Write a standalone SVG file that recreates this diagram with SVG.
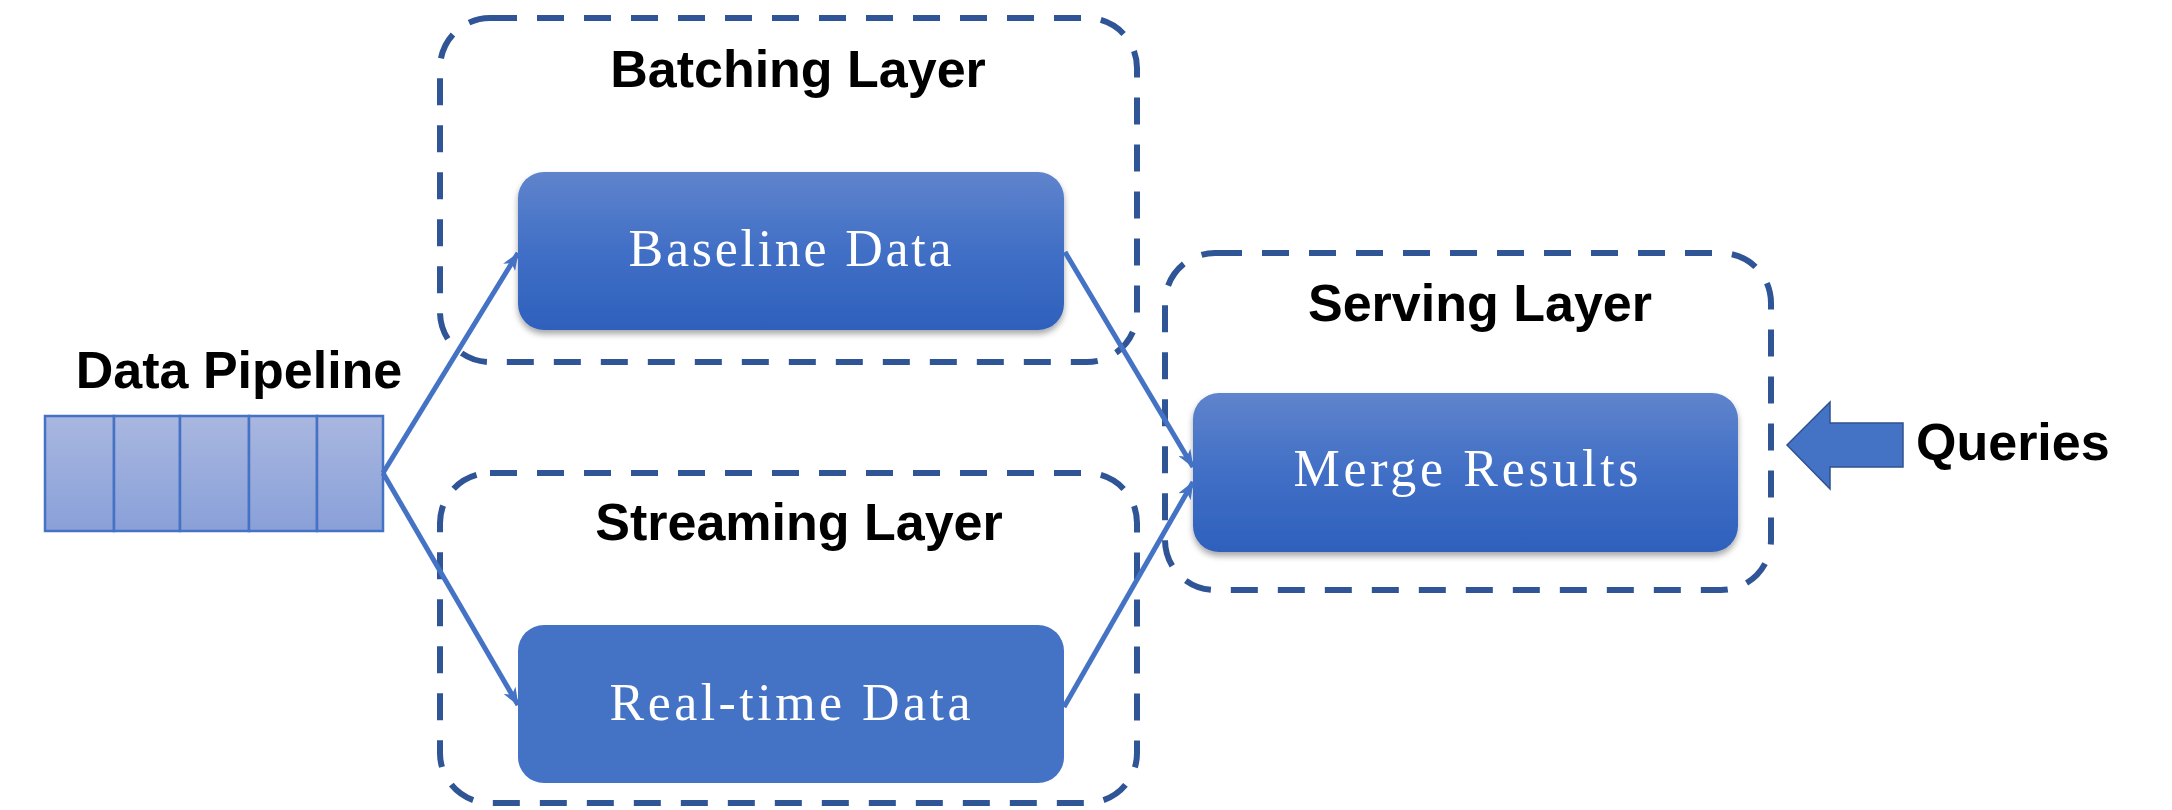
<svg xmlns="http://www.w3.org/2000/svg" width="2172" height="810" viewBox="0 0 2172 810">
  <defs>
    <linearGradient id="boxGrad" x1="0" y1="0" x2="0" y2="1">
      <stop offset="0" stop-color="#5F84CC"/>
      <stop offset="0.5" stop-color="#416FC6"/>
      <stop offset="1" stop-color="#2E60BC"/>
    </linearGradient>
    <linearGradient id="cellGrad" x1="0" y1="0" x2="0" y2="1">
      <stop offset="0" stop-color="#A9B7E0"/>
      <stop offset="1" stop-color="#89A0D8"/>
    </linearGradient>
    <filter id="shadow" x="-10%" y="-10%" width="120%" height="130%">
      <feDropShadow dx="0" dy="4" stdDeviation="3" flood-color="#000" flood-opacity="0.35"/>
    </filter>
    <marker id="arrow" viewBox="0 0 18 14" refX="17" refY="7" markerWidth="18" markerHeight="14" markerUnits="userSpaceOnUse" orient="auto">
      <path d="M0,0 L18,7 L0,14 L5,7 Z" fill="#4472C4"/>
    </marker>
  </defs>
  <style>
    .layer { fill: none; stroke: #2F5597; stroke-width: 6; stroke-dasharray: 27 20; }
    .title { font-family: "Liberation Sans", Arial, sans-serif; font-weight: bold; font-size: 52px; fill: #000; text-anchor: middle; }
    .label { font-family: "Liberation Serif", "Times New Roman", serif; font-size: 52px; fill: #fff; text-anchor: middle; }
    .node { filter: url(#shadow); }
    .cell { fill: url(#cellGrad); stroke: #4472C4; stroke-width: 2.5; }
    .link { fill: none; stroke: #4472C4; stroke-width: 5; marker-end: url(#arrow); }
  </style>

  <rect width="2172" height="810" fill="#fff"/>

  <!-- Data pipeline queue -->
  <g id="pipeline">
    <text class="title" x="239" y="388">Data Pipeline</text>
    <rect class="cell" x="45" y="416" width="69" height="115"/>
    <rect class="cell" x="114" y="416" width="66" height="115"/>
    <rect class="cell" x="180" y="416" width="69" height="115"/>
    <rect class="cell" x="249" y="416" width="68" height="115"/>
    <rect class="cell" x="317" y="416" width="66" height="115"/>
  </g>

  <!-- Batching layer -->
  <g id="batching-layer">
    <rect class="layer" x="440" y="18" width="697" height="344" rx="50" ry="50"/>
    <text class="title" x="798" y="87">Batching Layer</text>
  </g>
  <g id="baseline-data">
    <rect class="node" x="518" y="172" width="546" height="158" rx="26" ry="26" fill="url(#boxGrad)"/>
    <text class="label" x="790" y="266" textLength="323" lengthAdjust="spacing">Baseline Data</text>
  </g>

  <!-- Streaming layer -->
  <g id="streaming-layer">
    <rect class="layer" x="440" y="473" width="697" height="330" rx="50" ry="50"/>
    <text class="title" x="799" y="540">Streaming Layer</text>
  </g>
  <g id="realtime-data">
    <rect x="518" y="625" width="546" height="158" rx="26" ry="26" fill="#4472C4"/>
    <text class="label" x="790" y="720" textLength="361" lengthAdjust="spacing">Real-time Data</text>
  </g>

  <!-- Serving layer -->
  <g id="serving-layer">
    <rect class="layer" x="1165" y="253" width="606" height="337" rx="50" ry="50"/>
    <text class="title" x="1480" y="321">Serving Layer</text>
  </g>
  <g id="merge-results">
    <rect class="node" x="1193" y="393" width="545" height="159" rx="26" ry="26" fill="url(#boxGrad)"/>
    <text class="label" x="1466" y="486" textLength="345" lengthAdjust="spacing">Merge Results</text>
  </g>

  <!-- Incoming queries -->
  <g id="queries">
    <path d="M1787,445 L1830,402 L1830,423 L1903,423 L1903,467 L1830,467 L1830,489 Z" fill="#4472C4" stroke="#2F528F" stroke-width="1.5"/>
    <text class="title" x="1916" y="460" style="text-anchor:start">Queries</text>
  </g>

  <!-- Connectors -->
  <g id="connectors">
    <line class="link" x1="383" y1="473" x2="518" y2="253"/>
    <line class="link" x1="383" y1="473" x2="518" y2="705"/>
    <line class="link" x1="1065" y1="252" x2="1193" y2="467"/>
    <line class="link" x1="1064" y1="707" x2="1193" y2="482"/>
  </g>
</svg>
